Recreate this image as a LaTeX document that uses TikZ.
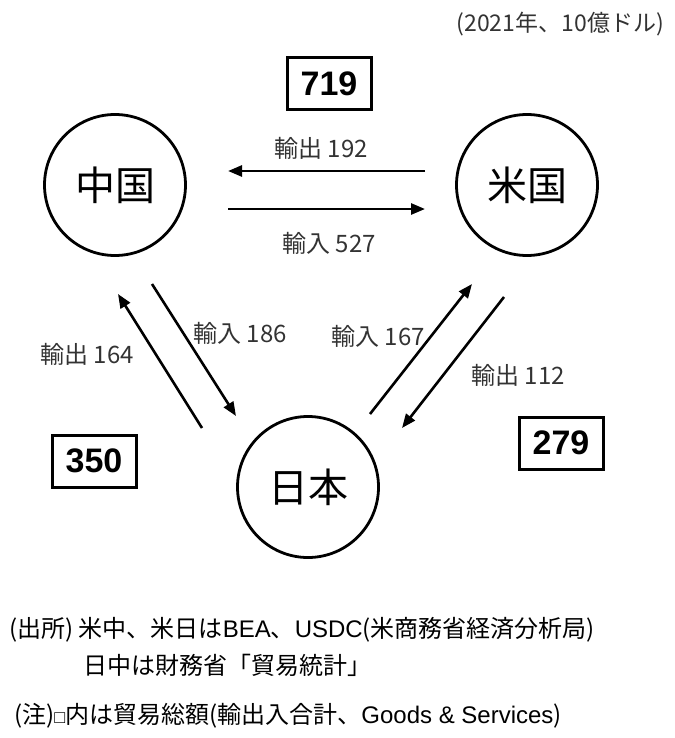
\documentclass[tikz,border=0pt]{standalone}
\usepackage{fontspec}
\setmainfont{Noto Sans CJK JP}
\newfontfamily\ar{Liberation Sans}
\usetikzlibrary{arrows.meta}
\begin{document}
\begin{tikzpicture}[x=1pt,y=-1pt,
  country/.style={circle,draw,line width=2.8pt,minimum size=141pt,inner sep=0pt,font=\fontsize{40}{42}\selectfont},
  total/.style={draw,line width=3pt,minimum width=84pt,minimum height=52pt,inner sep=0pt,font=\ar\bfseries\fontsize{34}{36}\selectfont},
  flow/.style={line width=2.6pt,-{Triangle[length=14pt,width=11pt]}},
  lbl/.style={font=\fontsize{24}{26}\selectfont,text=black!80,inner sep=0pt},
  note/.style={font=\fontsize{24}{27}\selectfont,inner sep=0pt,anchor=west}]
\useasboundingbox (0,0) rectangle (674,738);
\node[country] (cn) at (115,185) {中国};
\node[country] (us) at (527,185) {米国};
\node[country] (jp) at (308,487) {日本};
\node[total] (b719) at (329,84) {719};
\node[total] (b350) at (94,461) {350};
\node[total] (b279) at (561,443) {279};
% endpoints
\coordinate (a1s) at (425,171); \coordinate (a1e) at (228,171);
\coordinate (a2s) at (228,209); \coordinate (a2e) at (425,209);
\coordinate (a3s) at (202,428); \coordinate (a3e) at (118,294);
\coordinate (a4s) at (152,284); \coordinate (a4e) at (236,416);
\coordinate (a5s) at (370,414); \coordinate (a5e) at (472,284);
\coordinate (a6s) at (504,297); \coordinate (a6e) at (402,428);
\draw[flow] (a1s) -- (a1e);
\draw[flow] (a2s) -- (a2e);
\draw[flow] (a3s) -- (a3e);
\draw[flow] (a4s) -- (a4e);
\draw[flow] (a5s) -- (a5e);
\draw[flow] (a6s) -- (a6e);
\node[lbl] (l1) at (321,148) {輸出 192};
\node[lbl] (l2) at (329,243) {輸入 527};
\node[lbl] (l3) at (87,354) {輸出 164};
\node[lbl] (l4) at (240,333) {輸入 186};
\node[lbl] (l5) at (378,336) {輸入 167};
\node[lbl] (l6) at (518,375) {輸出 112};
\node[lbl,anchor=east,font=\fontsize{23}{25}\selectfont] (unit) at (664,24) {(2021年、10億ドル)};
\node[note] (n1) at (9,630) {(出所) 米中、米日は{\ar BEA}、{\ar USDC}(米商務省経済分析局)};
\node[note] (n2) at (83,665) {日中は財務省「貿易統計」};
\node[note] (n3) at (14,716) {(注){\ar\fontsize{18}{20}\selectfont □}内は貿易総額(輸出入合計、{\ar Goods \& Services})};
\end{tikzpicture}
\end{document}
